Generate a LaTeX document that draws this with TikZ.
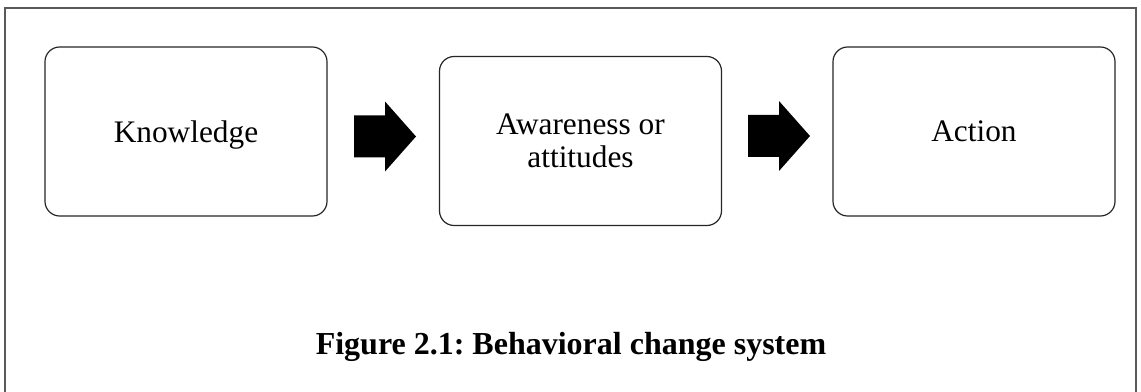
\documentclass[tikz,border=0pt]{standalone}
\usepackage{fontspec}
\setmainfont{Liberation Serif}
\frenchspacing
\begin{document}
\begin{tikzpicture}[x=0.75pt,y=-0.75pt,
  stage/.style={draw=black!85, line width=0.9pt, rounded corners=11pt,
    minimum width=211.5pt, minimum height=126.75pt, inner sep=0pt, outer sep=0pt,
    align=center, font=\fontsize{23.5pt}{24.5pt}\selectfont},
  oneline/.style={text depth=0pt},
  frameline/.style={draw=black!65, line width=0.8pt},
  blockarrow/.pic={\fill[black] (0,-21) -- (31,-21) -- (31,-35) -- (62,0) -- (31,35) -- (31,21) -- (0,21) -- cycle;}]
\useasboundingbox (0,0) rectangle (1141,392);
\fill[white] (0,0) rectangle (1141,392);
% outer frame, open at the bottom
\draw[frameline] (5,392) -- (5,8) -- (1136,8) -- (1136,392);
% the three stages
\node[stage, oneline] (know) at (186,131.5) {Knowledge};
\node[stage] (aware) at (580.5,141) {Awareness or\\attitudes};
\node[stage, oneline] (act) at (974,131.5) {Action};
% block arrows between the stages
\pic at (354,136.5) {blockarrow};
\pic at (748,136) {blockarrow};
% caption
\node[font=\fontsize{24pt}{28pt}\selectfont\bfseries, anchor=base] (cap) at (571,354) {Figure 2.1: Behavioral change system};
\end{tikzpicture}
\end{document}
